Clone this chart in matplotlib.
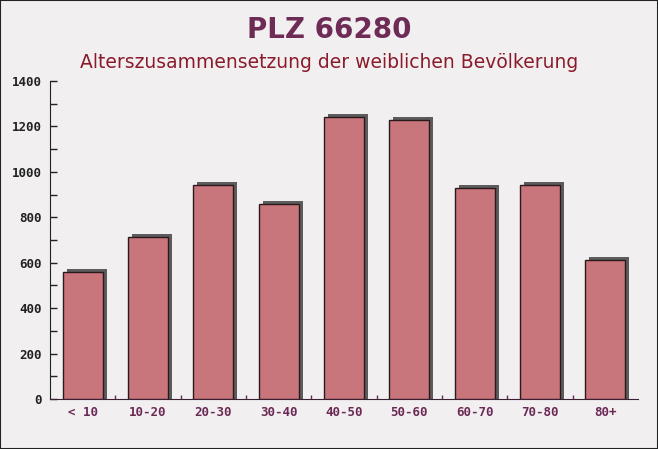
import matplotlib
matplotlib.use("Agg")
import matplotlib.pyplot as plt
from matplotlib.transforms import ScaledTranslation
from matplotlib.patches import Rectangle
from matplotlib.ticker import MultipleLocator

# Daten
altersgruppen = ['< 10', '10-20', '20-30', '30-40', '40-50', '50-60', '60-70', '70-80', '80+']
anzahl_frauen = [560, 714, 940, 859, 1243, 1230, 931, 944, 613]

titel = 'PLZ 66280'
untertitel = 'Alterszusammensetzung der weiblichen Bevölkerung'

fig = plt.figure(figsize=(6.58, 4.49), dpi=100)
fig.patch.set_facecolor('#f2eff1')
ax = fig.add_axes([50 / 658, 1 - 399 / 449, 588 / 658, 318 / 449])
ax.set_facecolor('none')

x = range(len(altersgruppen))

# Schatten (3D-Effekt), reicht bis unter die Achse
schatten = ax.transData + ScaledTranslation(4 / 100, 3 / 100, fig.dpi_scale_trans)
ax.bar(x, [v + 30 for v in anzahl_frauen], bottom=-30, width=0.61, color='#5e5b5c',
       transform=schatten, zorder=2)

# Balken
ax.bar(x, anzahl_frauen, width=0.61, color='#c8767b', edgecolor='#2a1a1c',
       linewidth=1.0, zorder=3)

ax.set_xlim(-0.5, len(altersgruppen) - 0.5)
ax.set_ylim(0, 1400)
ax.set_xticks(list(x))
ax.set_xticklabels(altersgruppen)
ax.set_xticks([i + 0.5 for i in x][:-1], minor=True)
ax.yaxis.set_major_locator(MultipleLocator(200))
ax.yaxis.set_minor_locator(MultipleLocator(100))

for spine in ['top', 'right']:
    ax.spines[spine].set_visible(False)
ax.spines['left'].set_color('#222222')
ax.spines['bottom'].set_color('#3a2030')

ax.tick_params(axis='y', direction='in', length=5, width=1, color='#222222',
               labelsize=9, labelcolor='#222222', pad=6)
ax.tick_params(axis='y', which='minor', direction='in', length=5, width=1, color='#222222')
ax.tick_params(axis='x', direction='in', length=0, labelsize=9,
               labelcolor='#6b2a55', pad=5)
ax.tick_params(axis='x', which='minor', direction='in', length=3, width=1, color='#6b2a55')
for lbl in ax.get_yticklabels() + ax.get_xticklabels():
    lbl.set_family('DejaVu Sans Mono')
    lbl.set_fontweight('bold')

fig.text(0.5, 1 - 30 / 449, titel, ha='center', va='center', fontsize=20,
         fontweight='bold', color='#6e2b55')
fig.text(0.5, 1 - 62 / 449, untertitel, ha='center', va='center', fontsize=13.5,
         color='#8a1b2b')

# Rahmen
fig.patches.append(Rectangle((0, 0), 1, 1, transform=fig.transFigure, fill=False,
                             edgecolor='#222222', linewidth=1.5))

fig.savefig('out.png', dpi=100, facecolor=fig.get_facecolor())
